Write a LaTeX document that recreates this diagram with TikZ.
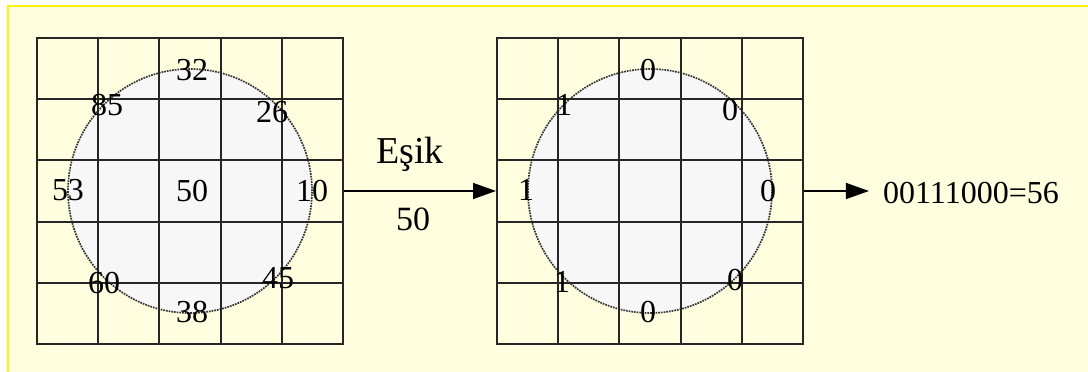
\documentclass[tikz,border=0pt]{standalone}
\usepackage{fontspec}
\setmainfont{Liberation Serif}
\usepackage{xcolor}
\usetikzlibrary{arrows.meta}

\definecolor{zemin}{HTML}{FFFFE0}
\definecolor{daireici}{HTML}{F7F7F7}

\tikzset{
  cerceve/.style={draw=black!85, line width=2pt, minimum size=306pt, inner sep=0pt},
  cizgi/.style={draw=black!85, line width=2pt},
  daire/.style={draw=black!80, densely dotted, line width=1.7pt, fill=daireici, circle, minimum size=244pt, inner sep=0pt},
  deger/.style={font=\fontsize{32}{36}\selectfont, inner sep=0pt},
  ok/.style={-{Triangle[length=23pt,width=16pt]}, line width=1.5pt}
}

\begin{document}
\begin{tikzpicture}[x=1pt,y=1pt]
  \useasboundingbox (0,0) rectangle (1088,372);
  \clip (0,0) rectangle (1088,372);
  % Zemin
  \fill[white] (0,0) rectangle (1088,372);
  \filldraw[fill=zemin, draw=yellow, line width=2.5pt] (8,-10) rectangle (1100,366);

  % Komşuluk daireleri
  \node[daire] (D1) at (190,181) {};
  \node[daire] (D2) at (650,181) {};

  % Izgaralar
  \node[cerceve] (G1) at (190,181) {};
  \node[cerceve] (G2) at (650,181) {};
  \draw[cizgi, xshift=37pt, yshift=28pt] (0,0) grid[step=61.2] (306,306);
  \draw[cizgi, xshift=497pt, yshift=28pt] (0,0) grid[step=61.2] (306,306);

  % Piksel değerleri
  \node[deger] (a1) at (192,302) {32};
  \node[deger] (a2) at (107,267) {85};
  \node[deger] (a3) at (272,260) {26};
  \node[deger] (a4) at (68,182) {53};
  \node[deger] (a5) at (192,181) {50};
  \node[deger] (a6) at (312,181) {10};
  \node[deger] (a7) at (104,89) {60};
  \node[deger] (a8) at (278,94) {45};
  \node[deger] (a9) at (192,60) {38};

  % İkili değerler
  \node[deger] (b1) at (648,302) {0};
  \node[deger] (b2) at (564,267) {1};
  \node[deger] (b3) at (730,262) {0};
  \node[deger] (b4) at (526,182) {1};
  \node[deger] (b5) at (768,181) {0};
  \node[deger] (b6) at (562,90) {1};
  \node[deger] (b7) at (735,92) {0};
  \node[deger] (b8) at (648,60) {0};

  % Sonuç
  \node[font=\fontsize{32}{36}\selectfont, inner sep=14pt] (S) at (971,179) {00111000=56};

  % Oklar
  \draw[ok] (G1) -- (G2) node[midway, above=19pt, font=\fontsize{38}{42}\selectfont, inner sep=0pt, xshift=-10pt] {Eşik} node[midway, below=16pt, font=\fontsize{34}{38}\selectfont, inner sep=0pt, xshift=-7pt] {50};
  \draw[ok] (G2.east) -- (G2.east -| S.west);
\end{tikzpicture}
\end{document}
